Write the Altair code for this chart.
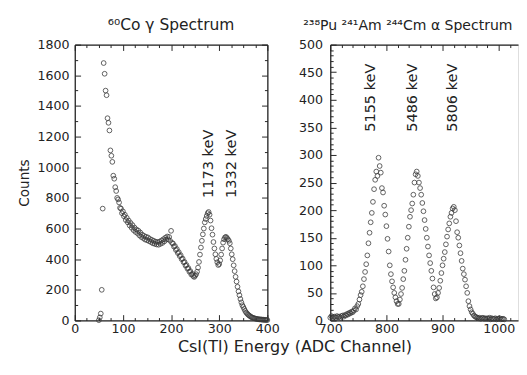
import altair as alt
import pandas as pd

FONT = "DejaVu Sans"
INK = "#222222"
MARK = "#3a3a3a"

# ---------------- data ----------------
co_channel = list(range(50, 401, 2))
co_counts = [
    2, 20, 45, 200, 730, 1680, 1610, 1500, 1470, 1320,
    1290, 1240, 1110, 1075, 1035, 945, 925, 870, 845, 800,
    790, 770, 735, 730, 700, 712, 680, 690, 655, 670,
    640, 652, 620, 636, 605, 622, 590, 606, 578, 594,
    570, 586, 556, 574, 545, 560, 538, 552, 528, 546,
    524, 542, 518, 532, 512, 526, 504, 520, 500, 514,
    496, 512, 494, 514, 500, 522, 506, 530, 516, 540,
    528, 548, 530, 545, 520, 585, 506, 502, 482, 486,
    460, 466, 440, 446, 420, 426, 400, 404, 380, 382,
    358, 362, 338, 342, 318, 322, 300, 304, 290, 284,
    292, 302, 318, 345, 382, 430, 476, 520, 562, 600,
    640, 662, 682, 700, 708, 690, 652, 602, 560, 512,
    470, 432, 402, 380, 362, 368, 392, 430, 470, 508,
    530, 542, 546, 538, 530, 520, 504, 470, 432, 400,
    360, 322, 285, 254, 220, 190, 165, 140, 118, 100,
    88, 75, 62, 52, 45, 38, 33, 28, 24, 20,
    18, 15, 13, 12, 10, 9, 8, 7, 7, 6,
    5, 5, 4, 4, 3, 3,
]

alpha_channel = list(range(700, 1011, 2))
alpha_counts = [
    5, 8, 4, 6, 7, 5, 8, 6, 7, 5,
    8, 9, 7, 10, 9, 12, 11, 14, 13, 16,
    15, 18, 22, 20, 26, 30, 38, 46, 52, 62,
    75, 88, 102, 118, 140, 159, 178, 195, 215, 238,
    255, 270, 262, 295, 280, 268, 240, 232, 208, 192,
    171, 148, 125, 100, 84, 71, 60, 50, 42, 35,
    30, 30, 38, 48, 59, 75, 90, 110, 130, 150,
    170, 188, 200, 212, 228, 250, 265, 270, 262, 250,
    240, 228, 213, 198, 182, 166, 150, 134, 118, 104,
    90, 76, 60, 48, 40, 42, 50, 59, 72, 86,
    100, 112, 124, 138, 152, 165, 176, 188, 195, 203,
    206, 200, 180, 160, 150, 136, 122, 108, 94, 84,
    74, 62, 50, 35, 26, 20, 15, 12, 9, 7,
    6, 5, 4, 5, 3, 4, 5, 3, 4, 3,
    4, 3, 5, 2, 4, 3, 3, 4, 2, 3,
    3, 4, 2, 3, 3, 2,
]

co_line_labels = ["1173 keV", "1332 keV"]
co_line_channel = [278, 325]
co_line_counts = [800, 800]

alpha_line_labels = ["5155 keV", "5486 keV", "5806 keV"]
alpha_line_channel = [771, 846, 917]
alpha_line_counts = [342, 342, 342]

co_x_major = [0, 100, 200, 300, 400]
co_x_minor = [25, 50, 75, 125, 150, 175, 225, 250, 275, 325, 350, 375]
co_y_major = [0, 200, 400, 600, 800, 1000, 1200, 1400, 1600, 1800]
co_y_minor = [100, 300, 500, 700, 900, 1100, 1300, 1500, 1700]

alpha_x_major = [700, 800, 900, 1000]
alpha_x_minor = [720, 740, 760, 780, 820, 840, 860, 880, 920, 940, 960, 980, 1020]
alpha_y_major = [0, 50, 100, 150, 200, 250, 300, 350, 400, 450, 500]
alpha_y_minor = [10, 20, 30, 40, 60, 70, 80, 90, 110, 120, 130, 140, 160, 170, 180,
                 190, 210, 220, 230, 240, 260, 270, 280, 290, 310, 320, 330, 340,
                 360, 370, 380, 390, 410, 420, 430, 440, 460, 470, 480, 490]

co_title = "⁶⁰Co γ Spectrum"
alpha_title = "²³⁸Pu ²⁴¹Am ²⁴⁴Cm α Spectrum"
x_title = "CsI(Tl) Energy (ADC Channel)"
y_title = "Counts"

co_df = pd.DataFrame({"channel": co_channel, "counts": co_counts})
alpha_df = pd.DataFrame({"channel": alpha_channel, "counts": alpha_counts})
co_ann = pd.DataFrame({"channel": co_line_channel, "counts": co_line_counts, "label": co_line_labels})
alpha_ann = pd.DataFrame({"channel": alpha_line_channel, "counts": alpha_line_counts, "label": alpha_line_labels})

H = 285


def tick_axis(orient, offset, values, size, domain):
    return alt.Axis(orient=orient, offset=offset, values=values, labels=False,
                    ticks=True, tickSize=size, tickColor=INK, tickWidth=1,
                    domain=domain, domainColor=INK, domainWidth=1.3,
                    grid=False, title=None)


def panel(df, ann, xdom, ydom, W, xmaj, xmin, ymaj, ymin, title_params,
          xaxis_main, yaxis_main, right_frame):
    xs = alt.Scale(domain=xdom, nice=False, zero=False)
    ys = alt.Scale(domain=ydom, nice=False, zero=False)

    pts = alt.Chart(df).mark_point(shape="circle", filled=False, size=24,
                                   strokeWidth=0.9, color=MARK, opacity=0.9).encode(
        x=alt.X("channel:Q", scale=xs, axis=xaxis_main),
        y=alt.Y("counts:Q", scale=ys, axis=yaxis_main),
    )
    txt = alt.Chart(ann).mark_text(angle=270, align="left", baseline="middle",
                                   font=FONT, fontSize=15, color=INK).encode(
        x=alt.X("channel:Q", scale=xs, axis=tick_axis("top", -H, xmaj, 6, True)),
        y=alt.Y("counts:Q", scale=ys, axis=tick_axis("right", -W, ymaj, 6, True)),
        text="label:N",
    )
    inv = alt.Chart(df).mark_point(opacity=0, size=1)
    l3 = inv.encode(
        x=alt.X("channel:Q", scale=xs, axis=tick_axis("top", -H, xmin, 3, False)),
        y=alt.Y("counts:Q", scale=ys, axis=tick_axis("right", -W, ymin, 3, False)),
    )
    if right_frame:
        l4 = inv.encode(
            x=alt.X("channel:Q", scale=xs, axis=tick_axis("bottom", -H, xmaj, 6, True)),
            y=alt.Y("counts:Q", scale=ys, axis=tick_axis("left", -W, ymaj, 6, True)),
        )
        l5 = inv.encode(
            x=alt.X("channel:Q", scale=xs, axis=tick_axis("bottom", -H, xmin, 3, False)),
            y=alt.Y("counts:Q", scale=ys, axis=tick_axis("left", -W, ymin, 3, False)),
        )
    else:
        l4 = inv.encode(
            x=alt.X("channel:Q", scale=xs, axis=tick_axis("bottom", -H, xmaj, 6, True)),
        )
        l5 = inv.encode(
            x=alt.X("channel:Q", scale=xs, axis=tick_axis("bottom", -H, xmin, 3, False)),
        )
    return alt.layer(pts, txt, l3, l4, l5).resolve_axis(
        x="independent", y="independent"
    ).properties(width=W, height=H, title=title_params)


common_lab = dict(ticks=False, domain=False, grid=False, labelFont=FONT, format="d",
                  labelFontSize=13, labelColor=INK, labelFlush=False, labelOverlap=False)

left = panel(
    co_df, co_ann, [0, 400], [0, 1800], 199,
    co_x_major, co_x_minor, co_y_major, co_y_minor,
    alt.TitleParams(text=co_title, font=FONT, fontSize=16, fontWeight="normal",
                    color=INK, anchor="middle", frame="group", offset=6),
    alt.Axis(orient="bottom", values=co_x_major, labelPadding=2, title=x_title,
             titleFont=FONT, titleFontSize=16.5, titleFontWeight="normal", titleColor=INK,
             titleX=227, titleY=19, **common_lab),
    alt.Axis(orient="left", values=co_y_major, labelPadding=6, title=y_title,
             titleFont=FONT, titleFontSize=14, titleFontWeight="normal", titleColor=INK,
             titleX=-45, **common_lab),
    True,
)

right = panel(
    alpha_df, alpha_ann, [700, 1034.5], [0, 500], 194,
    alpha_x_major, alpha_x_minor, alpha_y_major, alpha_y_minor,
    alt.TitleParams(text=alpha_title, font=FONT, fontSize=14.5, fontWeight="normal",
                    color=INK, anchor="start", frame="group", offset=6, dx=-28),
    alt.Axis(orient="bottom", values=alpha_x_major, labelPadding=2, title=None, **common_lab),
    alt.Axis(orient="left", values=alpha_y_major, labelPadding=8, title=None, **common_lab),
    False,
)

chart = alt.hconcat(left, right, spacing=65, bounds="flush").properties(
    padding={"left": 9, "top": 3, "right": 0, "bottom": 0}
).configure_view(strokeWidth=0).configure(background="white")

chart.save("out.html", embed_options={"renderer": "svg", "actions": False})
